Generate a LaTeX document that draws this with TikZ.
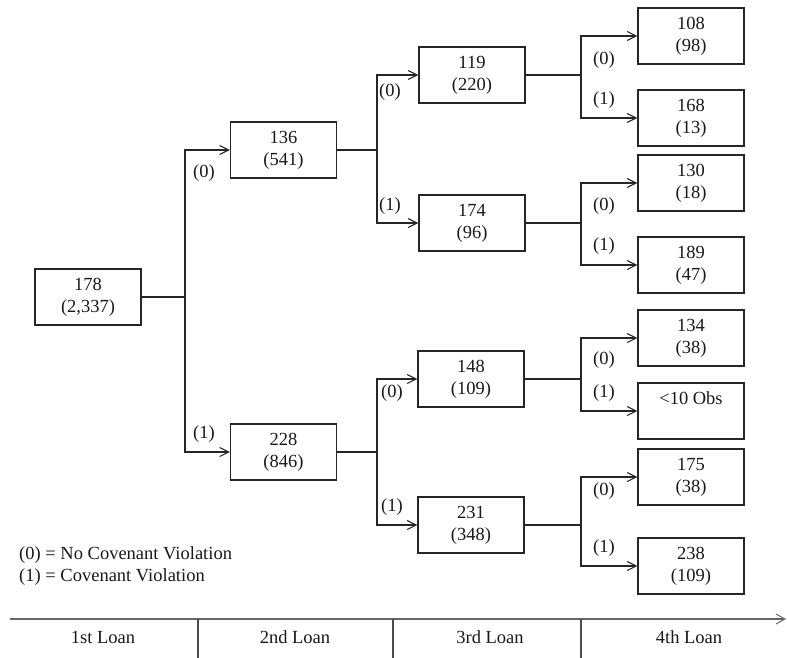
\documentclass[tikz,border=0pt]{standalone}
\usepackage{fontspec}
\setmainfont{Liberation Serif}
\usetikzlibrary{arrows.meta}
\begin{document}
\begin{tikzpicture}[x=1pt,y=-1pt,
  every node/.style={font=\fontsize{18.5}{22}\selectfont, text=black!90},
  box/.style={draw=black!85, line width=1.1pt, minimum width=106pt, minimum height=56pt, inner sep=0pt, align=center},
  link/.style={draw=black!85, line width=1.1pt},
  arr/.style={link, -{Straight Barb[length=9pt,width=9pt,line width=1.1pt]}},
  lab/.style={inner sep=0pt},
  axis/.style={draw=black!60, line width=1.5pt},
  divider/.style={draw=black!70, line width=1.1pt}]
\useasboundingbox (0,0) rectangle (787,658);
% level 1
\node[box] (root) at (88,297) {178\\(2,337)};
% level 2
\node[box] (n136) at (283.5,150) {136\\(541)};
\node[box] (n228) at (283.5,452) {228\\(846)};
% level 3
\node[box] (n119) at (472,75) {119\\(220)};
\node[box] (n174) at (472,223) {174\\(96)};
\node[box] (n148) at (471,379) {148\\(109)};
\node[box] (n231) at (471,525) {231\\(348)};
% level 4
\node[box] (n108) at (691,36) {108\\(98)};
\node[box] (n168) at (691,118) {168\\(13)};
\node[box] (n130) at (691,183) {130\\(18)};
\node[box] (n189) at (691,265) {189\\(47)};
\node[box] (n134) at (691,338) {134\\(38)};
\node[box] (nlt) at (691,411) {<10 Obs\\\phantom{(0)}};
\node[box] (n175) at (691,477) {175\\(38)};
\node[box] (n238) at (691,566) {238\\(109)};
% forks
\coordinate (f1) at (185,297);
\coordinate (f2a) at (377,150);
\coordinate (f2b) at (377,452);
\coordinate (f3a) at (581,75);
\coordinate (f3b) at (581,223);
\coordinate (f3c) at (581,379);
\coordinate (f3d) at (581,525);
\draw[link] (root.east) -- (f1);
\draw[arr] (f1) |- (n136.west);
\draw[arr] (f1) |- (n228.west);
\draw[link] (n136.east) -- (f2a);
\draw[arr] (f2a) |- (n119.west);
\draw[arr] (f2a) |- (n174.west);
\draw[link] (n228.east) -- (f2b);
\draw[arr] (f2b) |- (n148.west);
\draw[arr] (f2b) |- (n231.west);
\draw[link] (n119.east) -- (f3a);
\draw[arr] (f3a) |- (n108.west);
\draw[arr] (f3a) |- (n168.west);
\draw[link] (n174.east) -- (f3b);
\draw[arr] (f3b) |- (n130.west);
\draw[arr] (f3b) |- (n189.west);
\draw[link] (n148.east) -- (f3c);
\draw[arr] (f3c) |- (n134.west);
\draw[arr] (f3c) |- (nlt.west);
\draw[link] (n231.east) -- (f3d);
\draw[arr] (f3d) |- (n175.west);
\draw[arr] (f3d) |- (n238.west);
% branch labels
\node[lab] (l1a) at (204,173) {(0)};
\node[lab] (l1b) at (204,434) {(1)};
\node[lab] (l2a) at (390,92) {(0)};
\node[lab] (l2b) at (390,206) {(1)};
\node[lab] (l2c) at (392,393) {(0)};
\node[lab] (l2d) at (392,507) {(1)};
\node[lab] (l3a) at (604,60) {(0)};
\node[lab] (l3b) at (604,100) {(1)};
\node[lab] (l3c) at (604,206) {(0)};
\node[lab] (l3d) at (604,246) {(1)};
\node[lab] (l3e) at (604,360) {(0)};
\node[lab] (l3f) at (604,393) {(1)};
\node[lab] (l3g) at (604,491) {(0)};
\node[lab] (l3h) at (604,548) {(1)};
% legend
\node[lab, anchor=west] (leg0) at (19,555) {(0) = No Covenant Violation};
\node[lab, anchor=west] (leg1) at (19,577) {(1) = Covenant Violation};
% axis
\coordinate (ax0) at (10,619);
\coordinate (ax1) at (786,619);
\draw[axis, -{Straight Barb[length=9pt,width=10pt,line width=1pt]}] (ax0) -- (ax1);
\coordinate (d1t) at (198,619); \coordinate (d1b) at (198,658);
\coordinate (d2t) at (393,619); \coordinate (d2b) at (393,658);
\coordinate (d3t) at (581,619); \coordinate (d3b) at (581,658);
\draw[divider] (d1t) -- (d1b);
\draw[divider] (d2t) -- (d2b);
\draw[divider] (d3t) -- (d3b);
\node[lab] (t1) at (103,637) {1st Loan};
\node[lab] (t2) at (295,637) {2nd Loan};
\node[lab] (t3) at (490,637) {3rd Loan};
\node[lab] (t4) at (689,637) {4th Loan};
\end{tikzpicture}
\end{document}
